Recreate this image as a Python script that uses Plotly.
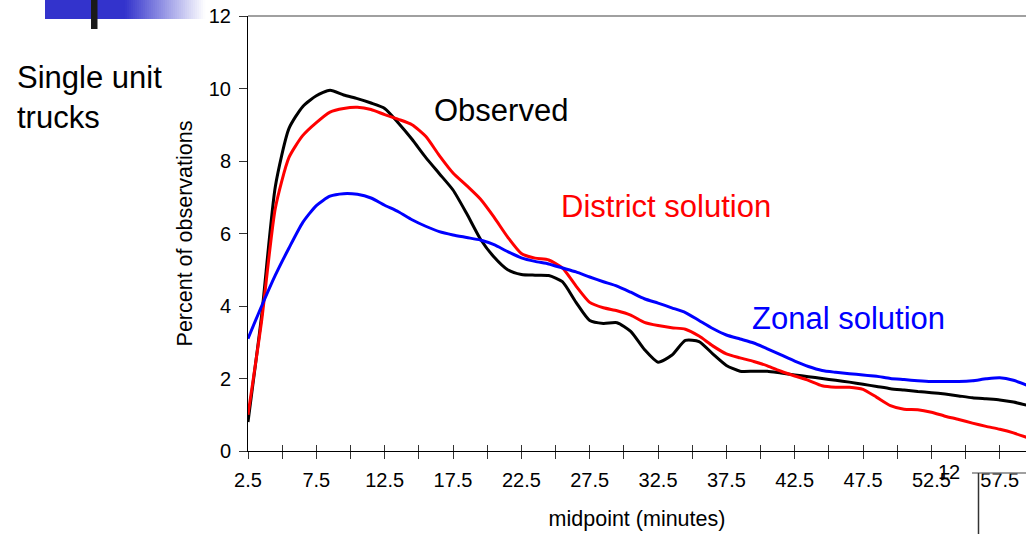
import plotly.graph_objects as go

# ---- data (percent of observations by trip-time midpoint, minutes) ----
midpoint = [2.5, 3.5, 4.5, 5.5, 6.5, 7.5, 8.5, 9.5, 10.5, 11.5, 12.5, 13.5, 14.5, 15.5,
            16.5, 17.5, 18.5, 19.5, 20.5, 21.5, 22.5, 23.5, 24.5, 25.5, 26.5, 27.5, 28.5,
            29.5, 30.5, 31.5, 32.5, 33.5, 34.5, 35.5, 36.5, 37.5, 38.5, 39.5, 40.5, 41.5,
            42.5, 43.5, 44.5, 45.5, 46.5, 47.5, 48.5, 49.5, 50.5, 51.5, 52.5, 53.5, 54.5,
            55.5, 56.5, 57.5, 58.5, 59.5]

observed = [0.8, 3.75, 7.3, 8.9, 9.5, 9.8, 9.95, 9.82, 9.72, 9.6, 9.45, 9.05, 8.6, 8.1,
            7.65, 7.2, 6.55, 5.85, 5.35, 5.0, 4.87, 4.85, 4.84, 4.67, 4.1, 3.6, 3.52,
            3.54, 3.3, 2.8, 2.45, 2.64, 3.05, 3.02, 2.68, 2.36, 2.2, 2.2, 2.2, 2.15,
            2.1, 2.05, 2.0, 1.95, 1.9, 1.84, 1.78, 1.72, 1.68, 1.64, 1.61, 1.57, 1.52,
            1.47, 1.44, 1.41, 1.35, 1.26]

district = [1.0, 3.6, 6.7, 8.1, 8.7, 9.06, 9.35, 9.45, 9.48, 9.42, 9.28, 9.15, 9.0, 8.68,
            8.15, 7.67, 7.32, 6.95, 6.45, 5.9, 5.45, 5.32, 5.27, 5.05, 4.55, 4.1, 3.95,
            3.87, 3.75, 3.55, 3.46, 3.4, 3.36, 3.17, 2.9, 2.68, 2.57, 2.47, 2.35, 2.2,
            2.07, 1.95, 1.8, 1.76, 1.76, 1.7, 1.48, 1.25, 1.15, 1.14, 1.07, 0.96, 0.87,
            0.77, 0.68, 0.6, 0.5, 0.37]

zonal = [3.1, 4.0, 4.85, 5.6, 6.3, 6.77, 7.03, 7.1, 7.08, 6.98, 6.78, 6.6, 6.38, 6.2,
         6.05, 5.96, 5.89, 5.82, 5.69, 5.5, 5.33, 5.23, 5.16, 5.05, 4.94, 4.8, 4.67,
         4.55, 4.38, 4.2, 4.08, 3.95, 3.82, 3.6, 3.38, 3.2, 3.09, 2.98, 2.82, 2.65,
         2.48, 2.33, 2.22, 2.17, 2.13, 2.1, 2.06, 2.0, 1.97, 1.94, 1.92, 1.92, 1.92,
         1.94, 1.99, 2.02, 1.95, 1.81]

tick_values = [2.5 + 2.5 * i for i in range(23)]
tick_labels = ["2.5", "", "7.5", "", "12.5", "", "17.5", "", "22.5", "", "27.5", "",
               "32.5", "", "37.5", "", "42.5", "", "47.5", "", "52.5", "", "57.5"]
y_ticks = [0, 2, 4, 6, 8, 10, 12]

series_names = ["Observed", "District solution", "Zonal solution"]
series_colors = ["#000000", "#FF0000", "#0000FF"]

# ---- layout geometry (pixels) ----
W, H = 1026, 534
L, R, T, B = 248, 0, 16, 83
PW, PH = W - L - R, H - T - B
FONT = "Liberation Sans, Arial, sans-serif"


def px(x):
    return (x - L) / PW


def py(y):
    return (H - B - y) / PH


fig = go.Figure()
for name, vals, col in zip(series_names, [observed, district, zonal], series_colors):
    fig.add_trace(go.Scatter(x=midpoint, y=vals, mode="lines", name=name,
                             line=dict(color=col, width=3, shape="spline", smoothing=0.6),
                             showlegend=False, cliponaxis=True))
# invisible trace anchoring the overlay axis (inside half of the crossing ticks)
fig.add_trace(go.Scatter(x=[midpoint[0]], y=[observed[0]], xaxis="x2", mode="markers",
                         marker=dict(opacity=0), showlegend=False, hoverinfo="skip"))

fig.update_layout(
    width=W, height=H,
    margin=dict(l=L, r=R, t=T, b=B, autoexpand=False),
    paper_bgcolor="white", plot_bgcolor="white",
    font=dict(family=FONT, color="black", size=20),
    xaxis=dict(range=[2.5, 59.42], tickmode="array", tickvals=tick_values,
               ticktext=tick_labels, ticks="outside", ticklen=7, tickwidth=1,
               tickcolor="#333333", showline=True, linecolor="black", linewidth=1,
               showgrid=False, zeroline=False, tickfont=dict(size=20),
               ticklabelstandoff=4,
               title=dict(text="midpoint (minutes)", font=dict(size=21.5), standoff=20),
               automargin=False),
    xaxis2=dict(range=[2.5, 59.42], overlaying="x", side="bottom", tickmode="array",
                tickvals=tick_values, ticks="inside", ticklen=6, tickwidth=1,
                tickcolor="#333333", showticklabels=False, showline=False,
                showgrid=False, zeroline=False),
    yaxis=dict(range=[0, 12], tickmode="array", tickvals=y_ticks, ticks="outside",
               ticklen=8, tickwidth=1, tickcolor="#333333", showline=True,
               linecolor="black", linewidth=1, showgrid=False, zeroline=False,
               tickfont=dict(size=20), ticklabelstandoff=4,
               title=dict(text="Percent of observations", font=dict(size=21.5), standoff=10),
               automargin=False),
)

# top border of plot area
fig.add_shape(type="line", xref="paper", yref="paper", x0=0, x1=1, y0=1, y1=1,
              line=dict(color="#808080", width=1.5))

# series labels
for text, col, xl, yc in [("Observed", "black", 432, 110),
                          ("District solution", "#FF0000", 559, 207),
                          ("Zonal solution", "#0000FF", 750, 318)]:
    fig.add_annotation(text=text, xref="paper", yref="paper", x=px(xl), y=py(yc),
                       xanchor="left", yanchor="middle", showarrow=False,
                       font=dict(size=31, color=col, family=FONT))

fig.add_annotation(text="Single unit<br>trucks", xref="paper", yref="paper",
                   x=px(15), y=py(98), xanchor="left", yanchor="middle", align="left",
                   showarrow=False, font=dict(size=31, color="black", family=FONT))

# slide decoration: blue bar fading to white
base = (51, 51, 204)
fig.add_shape(type="rect", xref="paper", yref="paper", x0=px(45), x1=px(126),
              y0=py(19), y1=py(0), line=dict(width=0), fillcolor="rgb(51,51,204)", layer="above")
N = 40
x_start, x_end = 125, 205
for i in range(N):
    t = (i + 0.5) / N
    c = tuple(int(round(b + (255 - b) * t)) for b in base)
    x0 = x_start + (x_end - x_start) * i / N
    x1 = x_start + (x_end - x_start) * (i + 1) / N + 0.5
    fig.add_shape(type="rect", xref="paper", yref="paper", x0=px(x0), x1=px(x1),
                  y0=py(19), y1=py(0), line=dict(width=0),
                  fillcolor="rgb(%d,%d,%d)" % c, layer="above")
fig.add_shape(type="rect", xref="paper", yref="paper", x0=px(91), x1=px(97.5),
              y0=py(29), y1=py(0), line=dict(width=0), fillcolor="#1a1a1a", layer="above")

# page number with corner lines
fig.add_annotation(text="12", xref="paper", yref="paper", x=px(962), y=py(472),
                   xanchor="right", yanchor="middle", showarrow=False,
                   font=dict(size=20, color="black", family=FONT))
fig.add_shape(type="line", xref="paper", yref="paper", x0=px(972), x1=px(1026),
              y0=py(473), y1=py(473), line=dict(color="#808080", width=1.5))
fig.add_shape(type="line", xref="paper", yref="paper", x0=px(978.5), x1=px(978.5),
              y0=py(473), y1=py(534), line=dict(color="#333333", width=1.5))

fig.write_html("out.html")
